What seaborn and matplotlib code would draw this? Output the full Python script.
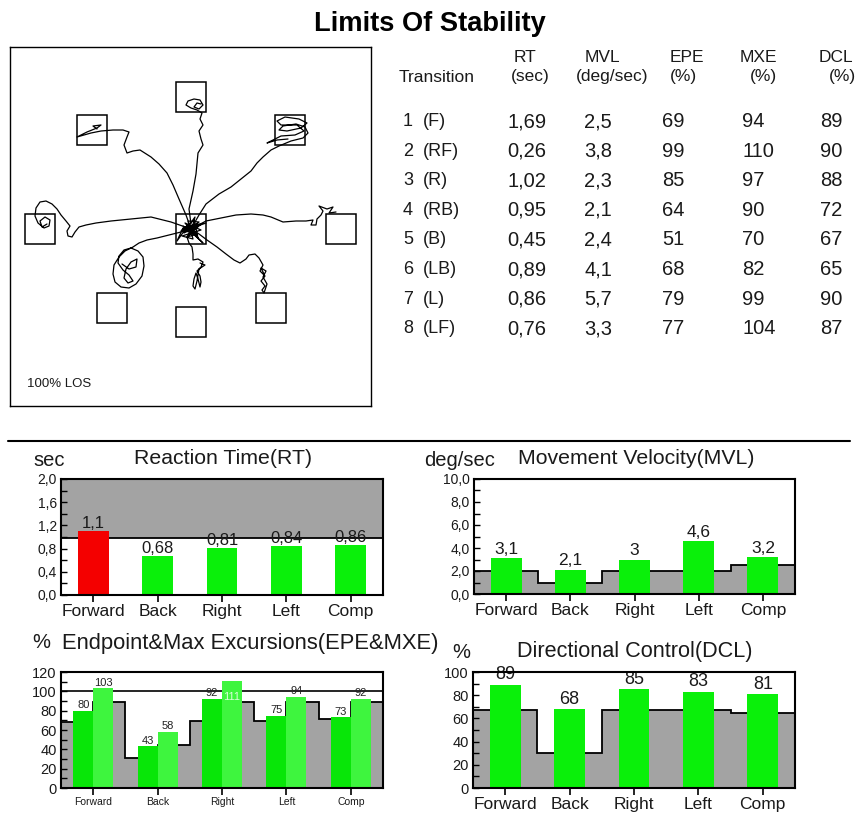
import numpy as np
import pandas as pd
import matplotlib
matplotlib.use("Agg")
import matplotlib.pyplot as plt
import seaborn as sns
from matplotlib.patches import Rectangle
from matplotlib.lines import Line2D
from matplotlib.ticker import MultipleLocator, FuncFormatter

sns.set_theme(style="white")
plt.rcParams["font.family"] = ["Liberation Sans", "DejaVu Sans"]

# ---------------- per-transition results ----------------
transition_no = ["1", "2", "3", "4", "5", "6", "7", "8"]
transition_dir = ["(F)", "(RF)", "(R)", "(RB)", "(B)", "(LB)", "(L)", "(LF)"]
rt_sec = [1.69, 0.26, 1.02, 0.95, 0.45, 0.89, 0.86, 0.76]
mvl_deg = [2.5, 3.8, 2.3, 2.1, 2.4, 4.1, 5.7, 3.3]
epe_pct = [69, 99, 85, 64, 51, 68, 79, 77]
mxe_pct = [94, 110, 97, 90, 70, 82, 99, 104]
dcl_pct = [89, 90, 88, 72, 67, 65, 90, 87]

# ---------------- summary per direction ----------------
summary_dirs = ["Forward", "Back", "Right", "Left", "Comp"]
rt_summary = [1.1, 0.68, 0.81, 0.84, 0.86]
rt_limit = 0.98
mvl_summary = [3.1, 2.1, 3.0, 4.6, 3.2]
mvl_norm = [2.0, 1.0, 2.0, 2.0, 2.5]
epe_summary = [80, 43, 92, 75, 73]
mxe_summary = [103, 58, 111, 94, 92]
epe_norm = [68, 31, 69, 69, 71]
mxe_norm = [89, 44, 89, 89, 89]
dcl_summary = [89, 68, 85, 83, 81]
dcl_norm = [67, 30, 67, 67, 65]

# ---------------- LOS targets and cursor paths ----------------
target_x = [0, 99, 150, 80, 0, -79, -151, -99, 0]
target_y = [132, 99, 0, -79, -93, -79, 0, 99, 0]
target_size = 30

path_F = [(0, 5), (-2, 20), (2, 38), (5, 55), (7, 76), (12, 84), (10, 90), (8, 98),
          (12, 104), (9, 110), (11, 116), (6, 119), (0, 121), (-5, 124), (-3, 128),
          (3, 130), (9, 129), (12, 124), (8, 120), (3, 122), (6, 126), (10, 125)]
path_RF = [(0, 0), (8, 14), (15, 25), (28, 35), (40, 42), (50, 50), (60, 58), (66, 66),
           (72, 72), (80, 79), (88, 83), (100, 88), (112, 91), (117, 96), (114, 102),
           (105, 105), (92, 103), (88, 99), (96, 98), (110, 101), (116, 106), (108, 110),
           (94, 112), (86, 108), (90, 104), (106, 104), (113, 98), (104, 94), (90, 93),
           (80, 88), (76, 86), (86, 89), (97, 90)]
path_R = [(0, 0), (15, 8), (30, 11), (45, 14), (60, 15), (72, 14), (80, 12), (92, 7),
          (105, 8), (115, 8), (122, 9), (120, 4), (125, 4), (126, 10), (130, 14),
          (132, 18), (128, 23), (136, 20), (142, 22), (138, 16), (145, 17)]
path_RB = [(0, 0), (8, -5), (16, -11), (26, -18), (35, -25), (43, -31), (49, -34),
           (55, -30), (58, -26), (64, -25), (68, -29), (72, -36), (69, -42), (74, -47),
           (70, -52), (74, -57), (71, -61), (73, -64), (76, -55), (72, -48), (75, -42),
           (70, -39), (73, -45)]
path_B = [(0, 0), (-4, -8), (-2, -14), (1, -18), (2, -25), (2, -31), (7, -30), (12, -33),
          (10, -38), (6, -42), (9, -47), (10, -53), (9, -58), (7, -50), (5, -44), (3, -50),
          (2, -57), (4, -60), (6, -52), (8, -40), (14, -36), (9, -34)]
path_LB = [(0, 0), (-10, -3), (-22, -6), (-34, -9), (-44, -11), (-52, -14), (-58, -18),
           (-66, -22), (-72, -28), (-77, -36), (-78, -45), (-76, -53), (-70, -58),
           (-62, -59), (-55, -55), (-49, -47), (-47, -37), (-48, -28), (-53, -22),
           (-60, -19), (-67, -21), (-72, -27), (-73, -34), (-68, -41), (-62, -46),
           (-58, -52), (-63, -54), (-67, -49), (-65, -40), (-60, -33), (-54, -30),
           (-55, -38), (-62, -40), (-69, -35)]
path_L = [(0, 0), (-20, 7), (-40, 12), (-60, 10), (-80, 8), (-95, 6), (-105, 4),
          (-112, 2), (-116, -3), (-119, -8), (-123, -7), (-124, -2), (-121, 3),
          (-125, 8), (-130, 14), (-134, 20), (-139, 25), (-145, 28), (-151, 27),
          (-155, 21), (-156, 13), (-153, 6), (-147, 1), (-142, 3), (-141, 9),
          (-146, 12), (-151, 8), (-149, 2), (-144, 5)]
path_LF = [(0, 0), (-5, 14), (-12, 30), (-18, 44), (-24, 56), (-32, 65), (-40, 72),
           (-51, 79), (-58, 78), (-64, 76), (-67, 84), (-64, 92), (-62, 97), (-68, 99),
           (-78, 99), (-90, 98), (-100, 96), (-114, 92), (-104, 97), (-94, 101),
           (-90, 104), (-98, 103), (-94, 100)]
center_scribble = [(-8, 3), (6, -5), (-4, -8), (9, 4), (-10, -2), (3, 9), (7, -9), (-6, 6),
                   (10, -1), (-9, -7), (2, -10), (-3, 8), (8, 7), (-7, -4), (5, 2),
                   (-2, -6), (6, 5), (-8, 1), (-14, -12), (-4, 2), (12, -14), (0, -3),
                   (4, 12), (-6, -2), (3, -4), (-3, 3), (15, 6), (1, 1)]

W, H = 859, 814
GREEN = "#0af00a"
EPE_GREEN = "#08e608"
MXE_GREEN = "#3ef53e"
RED = "#f40000"
GRAY = "#a3a3a3"
TXT = "#1a1a1a"

fig = plt.figure(figsize=(W / 100, H / 100), dpi=100)
fig.patch.set_facecolor("white")


def rect_px(x0, y0, x1, y1):
    return [x0 / W, 1 - y1 / H, (x1 - x0) / W, (y1 - y0) / H]


def ftext(x, y, s, **kw):
    kw.setdefault("color", TXT)
    fig.text(x / W, 1 - y / H, s, **kw)


def comma(fmt):
    return lambda v, pos=None: format(v, fmt).replace(".", ",")


# ---------------- title ----------------
ftext(430, 24, "Limits Of Stability", ha="center", va="center", fontsize=19.6,
      fontweight="bold", color="black")

# ---------------- LOS trace panel ----------------
los = fig.add_axes(rect_px(10, 47, 371, 406))
los.set_xlim(-181, 180)
los.set_ylim(-177, 182)
los.set_xticks([])
los.set_yticks([])
for sp in los.spines.values():
    sp.set_visible(True)
    sp.set_color("black")
    sp.set_linewidth(1.0)
half = target_size / 2
for tx, ty in zip(target_x, target_y):
    los.add_patch(Rectangle((tx - half, ty - half), target_size, target_size,
                            fill=False, ec="black", lw=1.1))
for path in [path_F, path_RF, path_R, path_RB, path_B, path_LB, path_L, path_LF,
             center_scribble]:
    xs, ys = zip(*path)
    los.plot(xs, ys, color="black", lw=0.9, solid_joinstyle="round")
los.text(0.047, 0.062, "100% LOS", transform=los.transAxes, fontsize=9.5,
         ha="left", va="center", color=TXT)

# ---------------- results table ----------------
hdr1 = [("RT", 525), ("MVL", 602), ("EPE", 687), ("MXE", 758), ("DCL", 836)]
hdr2 = [("(sec)", 530), ("(deg/sec)", 612), ("(%)", 683), ("(%)", 763), ("(%)", 842)]
for s, x in hdr1:
    ftext(x, 58, s, ha="center", va="center", fontsize=12.5)
for s, x in hdr2:
    ftext(x, 77, s, ha="center", va="center", fontsize=12.5)
ftext(437, 77, "Transition", ha="center", va="center", fontsize=12.5)

for i in range(len(transition_no)):
    y = 121.5 + 29.6 * i
    ftext(403, y, transition_no[i], ha="left", va="center", fontsize=13)
    ftext(423, y, transition_dir[i], ha="left", va="center", fontsize=13)
    ftext(527, y, comma(".2f")(rt_sec[i]), ha="center", va="center", fontsize=14.5)
    ftext(598, y, comma(".1f")(mvl_deg[i]), ha="center", va="center", fontsize=14.5)
    ftext(662, y, str(epe_pct[i]), ha="left", va="center", fontsize=14.5)
    ftext(742, y, str(mxe_pct[i]), ha="left", va="center", fontsize=14.5)
    ftext(820, y, str(dcl_pct[i]), ha="left", va="center", fontsize=14.5)

# separator
fig.add_artist(Line2D([8 / W, 850 / W], [1 - 441 / H] * 2, color="black", lw=1.5,
                      transform=fig.transFigure))


# ---------------- summary bar charts ----------------
def style_axes(ax, ymax, major, minor, yfmt, xlabelsize, ylabelsize=10):
    ax.set_xlim(-0.5, 4.5)
    ax.set_ylim(0, ymax)
    ax.set_xlabel("")
    ax.set_ylabel("")
    ax.yaxis.set_major_locator(MultipleLocator(major))
    ax.yaxis.set_minor_locator(MultipleLocator(minor))
    ax.yaxis.set_major_formatter(FuncFormatter(yfmt))
    ax.tick_params(axis="y", which="both", direction="in", left=True, length=4,
                   width=1, labelsize=ylabelsize, pad=3, colors="black",
                   labelcolor=TXT)
    ax.tick_params(axis="x", which="major", direction="out", bottom=True, length=5,
                   width=1.2, labelsize=xlabelsize, pad=1.5, colors="black",
                   labelcolor=TXT)
    ax.tick_params(axis="x", which="minor", bottom=False)
    for sp in ax.spines.values():
        sp.set_visible(True)
        sp.set_color("black")
        sp.set_linewidth(1.5)
        sp.set_zorder(5)


edges = np.arange(len(summary_dirs) + 1) - 0.5

# Reaction time
ax = fig.add_axes(rect_px(61, 479, 383, 595))
ax.axhspan(rt_limit, 2.0, color=GRAY, lw=0, zorder=0)
ax.axhline(rt_limit, color="black", lw=1.3, zorder=1)
rt_colors = [RED if v > rt_limit else GREEN for v in rt_summary]
sns.barplot(x=summary_dirs, y=rt_summary, hue=summary_dirs, palette=rt_colors,
            width=0.48, saturation=1, errorbar=None, legend=False, linewidth=0,
            zorder=2, ax=ax)
for c in ax.containers:
    ax.bar_label(c, fmt=comma("g"), padding=0, fontsize=12, color=TXT)
style_axes(ax, 2.0, 0.4, 0.2, comma(".1f"), 12.5)
ftext(33, 460, "sec", ha="left", va="center", fontsize=14.5)
ftext(223, 459, "Reaction Time(RT)", ha="center", va="center", fontsize=15.3)

# Movement velocity
ax = fig.add_axes(rect_px(474, 479, 795, 594))
ax.stairs(mvl_norm, edges, baseline=0, fill=True, color=GRAY, lw=0, zorder=0)
ax.stairs(mvl_norm, edges, baseline=None, color="black", lw=1.3, zorder=1)
sns.barplot(x=summary_dirs, y=mvl_summary, color=GREEN, width=0.48, saturation=1,
            errorbar=None, linewidth=0, zorder=2, ax=ax)
for c in ax.containers:
    ax.bar_label(c, fmt=comma("g"), padding=1, fontsize=12.5, color=TXT)
style_axes(ax, 10.0, 2.0, 1.0, comma(".1f"), 12.5)
ftext(424, 460, "deg/sec", ha="left", va="center", fontsize=14.5)
ftext(636, 459, "Movement Velocity(MVL)", ha="center", va="center", fontsize=15.3)

# Endpoint & maximum excursions
ax = fig.add_axes(rect_px(61, 672, 383, 788))
exc_norm = np.ravel(np.column_stack([epe_norm, mxe_norm]))
exc_edges = np.arange(2 * len(summary_dirs) + 1) * 0.5 - 0.5
ax.stairs(exc_norm, exc_edges, baseline=0, fill=True, color=GRAY, lw=0, zorder=0)
ax.stairs(exc_norm, exc_edges, baseline=None, color="black", lw=1.3, zorder=1)
ax.axhline(100, color="black", lw=1.2, zorder=1)
exc = pd.DataFrame({
    "dir": summary_dirs * 2,
    "value": epe_summary + mxe_summary,
    "measure": ["EPE"] * len(summary_dirs) + ["MXE"] * len(summary_dirs),
})
sns.barplot(data=exc, x="dir", y="value", hue="measure",
            palette=[EPE_GREEN, MXE_GREEN], width=0.62, gap=0, saturation=1,
            errorbar=None, legend=False, linewidth=0, zorder=2, ax=ax)
for c, vals in zip(ax.containers, [epe_summary, mxe_summary]):
    for bar, v in zip(c, vals):
        xc = bar.get_x() + bar.get_width() / 2
        if v > 105:
            ax.annotate(str(v), (xc, bar.get_height()), xytext=(0, -12),
                        textcoords="offset points", ha="center", va="center",
                        fontsize=8, color="#d8ffd8", zorder=3)
        else:
            ax.annotate(str(v), (xc, bar.get_height()), xytext=(0, 0.5),
                        textcoords="offset points", ha="center", va="bottom",
                        fontsize=8, color="#222222", zorder=3)
style_axes(ax, 120, 20, 10, lambda v, pos=None: f"{v:.0f}", 7.5, 10.5)
ftext(32, 643, "%", ha="left", va="center", fontsize=14.5)
ftext(62, 643, "Endpoint&Max Excursions(EPE&MXE)", ha="left", va="center",
      fontsize=15.8)

# Directional control
ax = fig.add_axes(rect_px(473, 672, 795, 788))
ax.stairs(dcl_norm, edges, baseline=0, fill=True, color=GRAY, lw=0, zorder=0)
ax.stairs(dcl_norm, edges, baseline=None, color="black", lw=1.3, zorder=1)
sns.barplot(x=summary_dirs, y=dcl_summary, color=GREEN, width=0.48, saturation=1,
            errorbar=None, linewidth=0, zorder=2, ax=ax)
for c in ax.containers:
    ax.bar_label(c, fmt="%d", padding=1, fontsize=13, color=TXT, clip_on=False)
style_axes(ax, 100, 20, 10, lambda v, pos=None: f"{v:.0f}", 12.5, 10.5)
ftext(452, 652, "%", ha="left", va="center", fontsize=14.5)
ftext(635, 652, "Directional Control(DCL)", ha="center", va="center", fontsize=15.6)

fig.savefig("out.png", dpi=100, facecolor="white")
